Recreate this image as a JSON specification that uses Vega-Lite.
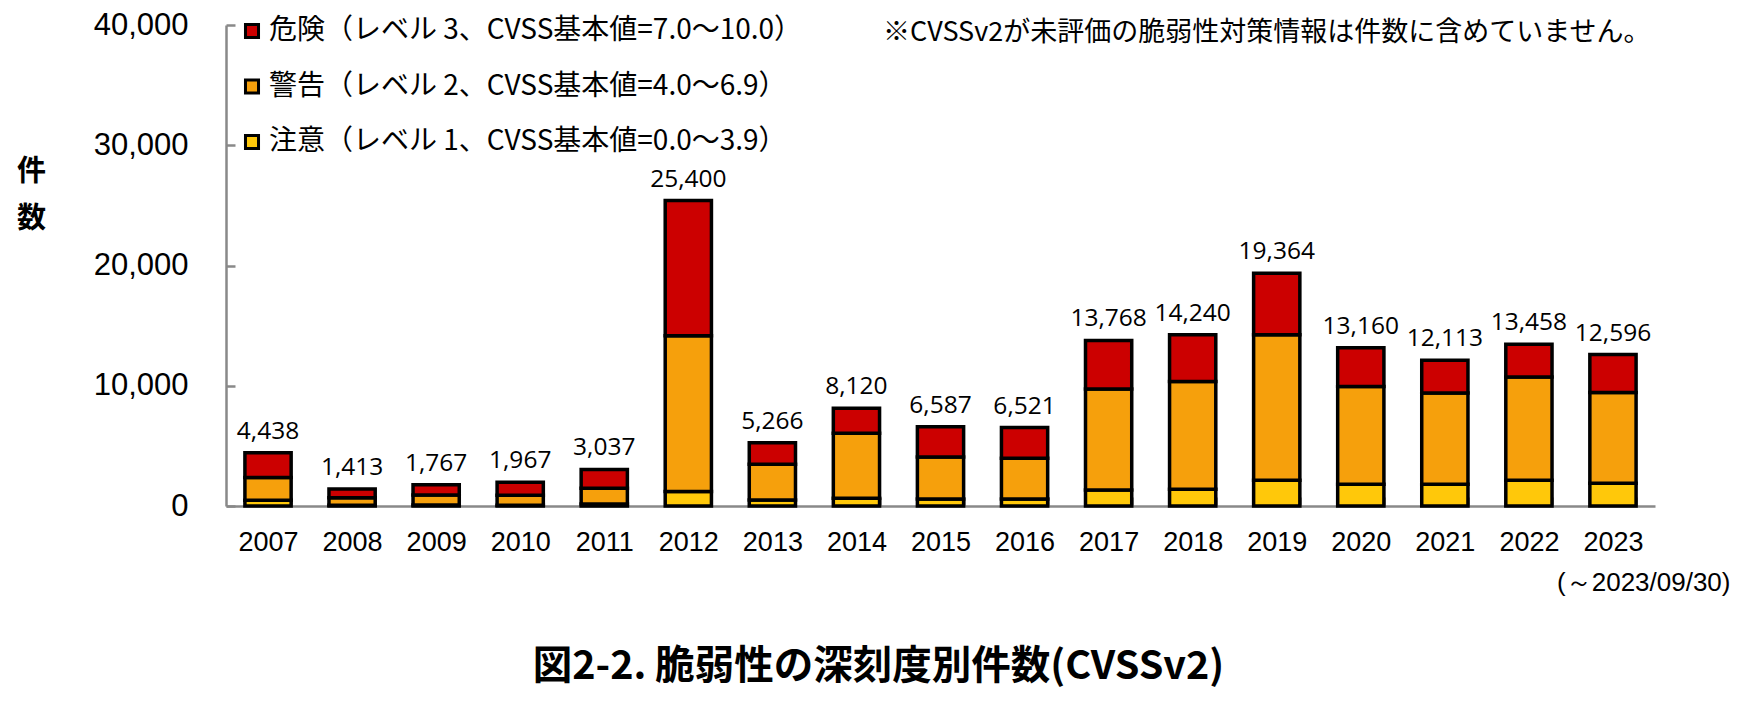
{
  "$schema": "https://vega.github.io/schema/vega-lite/v6.json",
  "width": 1429,
  "height": 481,
  "autosize": {"type": "none"},
  "padding": {"left": 226, "top": 25, "right": 99, "bottom": 208},
  "background": "white",
  "config": {"view": {"stroke": null}, "font": "Noto Sans CJK JP"},
  "title": {
    "text": "図2-2. 脆弱性の深刻度別件数(CVSSv2)",
    "orient": "bottom",
    "frame": "group",
    "anchor": "middle",
    "offset": 53,
    "dx": -62,
    "fontSize": 39.5,
    "fontWeight": "bold",
    "font": "Noto Sans CJK JP",
    "color": "#000000"
  },
  "datasets": {
    "counts": [
      {"year": "2007", "lv": 1, "level": "注意（レベル 1、CVSS基本値=0.0～3.9）", "count": 480},
      {"year": "2007", "lv": 2, "level": "警告（レベル 2、CVSS基本値=4.0～6.9）", "count": 1880},
      {"year": "2007", "lv": 3, "level": "危険（レベル 3、CVSS基本値=7.0～10.0）", "count": 2078},
      {"year": "2008", "lv": 1, "level": "注意（レベル 1、CVSS基本値=0.0～3.9）", "count": 60},
      {"year": "2008", "lv": 2, "level": "警告（レベル 2、CVSS基本値=4.0～6.9）", "count": 630},
      {"year": "2008", "lv": 3, "level": "危険（レベル 3、CVSS基本値=7.0～10.0）", "count": 723},
      {"year": "2009", "lv": 1, "level": "注意（レベル 1、CVSS基本値=0.0～3.9）", "count": 90},
      {"year": "2009", "lv": 2, "level": "警告（レベル 2、CVSS基本値=4.0～6.9）", "count": 830},
      {"year": "2009", "lv": 3, "level": "危険（レベル 3、CVSS基本値=7.0～10.0）", "count": 847},
      {"year": "2010", "lv": 1, "level": "注意（レベル 1、CVSS基本値=0.0～3.9）", "count": 70},
      {"year": "2010", "lv": 2, "level": "警告（レベル 2、CVSS基本値=4.0～6.9）", "count": 820},
      {"year": "2010", "lv": 3, "level": "危険（レベル 3、CVSS基本値=7.0～10.0）", "count": 1077},
      {"year": "2011", "lv": 1, "level": "注意（レベル 1、CVSS基本値=0.0～3.9）", "count": 170},
      {"year": "2011", "lv": 2, "level": "警告（レベル 2、CVSS基本値=4.0～6.9）", "count": 1300},
      {"year": "2011", "lv": 3, "level": "危険（レベル 3、CVSS基本値=7.0～10.0）", "count": 1567},
      {"year": "2012", "lv": 1, "level": "注意（レベル 1、CVSS基本値=0.0～3.9）", "count": 1200},
      {"year": "2012", "lv": 2, "level": "警告（レベル 2、CVSS基本値=4.0～6.9）", "count": 12950},
      {"year": "2012", "lv": 3, "level": "危険（レベル 3、CVSS基本値=7.0～10.0）", "count": 11250},
      {"year": "2013", "lv": 1, "level": "注意（レベル 1、CVSS基本値=0.0～3.9）", "count": 500},
      {"year": "2013", "lv": 2, "level": "警告（レベル 2、CVSS基本値=4.0～6.9）", "count": 2980},
      {"year": "2013", "lv": 3, "level": "危険（レベル 3、CVSS基本値=7.0～10.0）", "count": 1786},
      {"year": "2014", "lv": 1, "level": "注意（レベル 1、CVSS基本値=0.0～3.9）", "count": 650},
      {"year": "2014", "lv": 2, "level": "警告（レベル 2、CVSS基本値=4.0～6.9）", "count": 5400},
      {"year": "2014", "lv": 3, "level": "危険（レベル 3、CVSS基本値=7.0～10.0）", "count": 2070},
      {"year": "2015", "lv": 1, "level": "注意（レベル 1、CVSS基本値=0.0～3.9）", "count": 590},
      {"year": "2015", "lv": 2, "level": "警告（レベル 2、CVSS基本値=4.0～6.9）", "count": 3490},
      {"year": "2015", "lv": 3, "level": "危険（レベル 3、CVSS基本値=7.0～10.0）", "count": 2507},
      {"year": "2016", "lv": 1, "level": "注意（レベル 1、CVSS基本値=0.0～3.9）", "count": 580},
      {"year": "2016", "lv": 2, "level": "警告（レベル 2、CVSS基本値=4.0～6.9）", "count": 3400},
      {"year": "2016", "lv": 3, "level": "危険（レベル 3、CVSS基本値=7.0～10.0）", "count": 2541},
      {"year": "2017", "lv": 1, "level": "注意（レベル 1、CVSS基本値=0.0～3.9）", "count": 1340},
      {"year": "2017", "lv": 2, "level": "警告（レベル 2、CVSS基本値=4.0～6.9）", "count": 8380},
      {"year": "2017", "lv": 3, "level": "危険（レベル 3、CVSS基本値=7.0～10.0）", "count": 4048},
      {"year": "2018", "lv": 1, "level": "注意（レベル 1、CVSS基本値=0.0～3.9）", "count": 1400},
      {"year": "2018", "lv": 2, "level": "警告（レベル 2、CVSS基本値=4.0～6.9）", "count": 8960},
      {"year": "2018", "lv": 3, "level": "危険（レベル 3、CVSS基本値=7.0～10.0）", "count": 3880},
      {"year": "2019", "lv": 1, "level": "注意（レベル 1、CVSS基本値=0.0～3.9）", "count": 2150},
      {"year": "2019", "lv": 2, "level": "警告（レベル 2、CVSS基本値=4.0～6.9）", "count": 12100},
      {"year": "2019", "lv": 3, "level": "危険（レベル 3、CVSS基本値=7.0～10.0）", "count": 5114},
      {"year": "2020", "lv": 1, "level": "注意（レベル 1、CVSS基本値=0.0～3.9）", "count": 1810},
      {"year": "2020", "lv": 2, "level": "警告（レベル 2、CVSS基本値=4.0～6.9）", "count": 8130},
      {"year": "2020", "lv": 3, "level": "危険（レベル 3、CVSS基本値=7.0～10.0）", "count": 3220},
      {"year": "2021", "lv": 1, "level": "注意（レベル 1、CVSS基本値=0.0～3.9）", "count": 1810},
      {"year": "2021", "lv": 2, "level": "警告（レベル 2、CVSS基本値=4.0～6.9）", "count": 7580},
      {"year": "2021", "lv": 3, "level": "危険（レベル 3、CVSS基本値=7.0～10.0）", "count": 2723},
      {"year": "2022", "lv": 1, "level": "注意（レベル 1、CVSS基本値=0.0～3.9）", "count": 2140},
      {"year": "2022", "lv": 2, "level": "警告（レベル 2、CVSS基本値=4.0～6.9）", "count": 8580},
      {"year": "2022", "lv": 3, "level": "危険（レベル 3、CVSS基本値=7.0～10.0）", "count": 2738},
      {"year": "2023", "lv": 1, "level": "注意（レベル 1、CVSS基本値=0.0～3.9）", "count": 1890},
      {"year": "2023", "lv": 2, "level": "警告（レベル 2、CVSS基本値=4.0～6.9）", "count": 7550},
      {"year": "2023", "lv": 3, "level": "危険（レベル 3、CVSS基本値=7.0～10.0）", "count": 3156}
    ],
    "notes": [
      {"text": "※CVSSv2が未評価の脆弱性対策情報は件数に含めていません。"}
    ]
  },
  "layer": [
    {
      "data": {"name": "counts"},
      "mark": {"type": "bar", "stroke": "#000000", "strokeWidth": 3.5},
      "encoding": {
        "x": {
          "field": "year",
          "type": "ordinal",
          "scale": {"paddingInner": 0.45, "paddingOuter": 0.225},
          "axis": {
            "title": "(～2023/09/30)",
            "titleFont": "Liberation Sans",
            "titleFontSize": 26,
            "titleFontWeight": "normal",
            "titleColor": "#000000",
            "titleAlign": "right",
            "titleAnchor": "end",
            "titleBaseline": "middle",
            "titleX": 1504,
            "titleY": 76,
            "labelAngle": 0,
            "labelFont": "Liberation Sans",
            "labelFontSize": 27,
            "labelColor": "#000000",
            "labelPadding": 32,
            "tickBand": "extent",
            "tickSize": -9,
            "tickColor": "#898989",
            "tickWidth": 2.5,
            "domainColor": "#898989",
            "domainWidth": 2.5
          }
        },
        "y": {
          "field": "count",
          "type": "quantitative",
          "aggregate": "sum",
          "stack": "zero",
          "scale": {"domain": [0, 40000], "nice": false},
          "axis": {
            "values": [0, 10000, 20000, 30000, 40000],
            "format": ",d",
            "grid": false,
            "title": ["件", "数"],
            "titleAngle": 0,
            "titleX": -195,
            "titleY": 146,
            "titleAlign": "center",
            "titleBaseline": "middle",
            "titleFont": "Noto Sans CJK JP",
            "titleFontSize": 29,
            "titleFontWeight": "bold",
            "titleLineHeight": 47,
            "titleColor": "#000000",
            "labelFont": "Liberation Sans",
            "labelFontSize": 31,
            "labelColor": "#000000",
            "labelPadding": 47,
            "tickSize": -9,
            "tickColor": "#898989",
            "tickWidth": 2.5,
            "domainColor": "#898989",
            "domainWidth": 2.5
          }
        },
        "color": {
          "field": "level",
          "type": "nominal",
          "scale": {
            "domain": ["危険（レベル 3、CVSS基本値=7.0～10.0）", "警告（レベル 2、CVSS基本値=4.0～6.9）", "注意（レベル 1、CVSS基本値=0.0～3.9）"],
            "range": ["#CC0000", "#F6A00C", "#FFC80A"]
          },
          "legend": {
            "title": null,
            "orient": "none",
            "legendX": 12,
            "legendY": -8,
            "symbolType": "square",
            "symbolSize": 170,
            "symbolStrokeColor": "#000000",
            "symbolStrokeWidth": 3,
            "symbolOpacity": 1,
            "labelFont": "Noto Sans CJK JP",
            "labelFontSize": 28,
            "labelColor": "#000000",
            "labelLimit": 800,
            "rowPadding": 27.5,
            "labelOffset": 3
          }
        },
        "order": {"field": "lv", "type": "quantitative", "sort": "ascending"}
      }
    },
    {
      "data": {"name": "counts"},
      "transform": [
        {"aggregate": [{"op": "sum", "field": "count", "as": "total"}], "groupby": ["year"]}
      ],
      "mark": {"type": "text", "font": "Open Sans", "fontSize": 24.5, "color": "#000000", "baseline": "alphabetic", "dy": -14},
      "encoding": {
        "x": {"field": "year", "type": "ordinal"},
        "y": {"field": "total", "type": "quantitative"},
        "text": {"field": "total", "type": "quantitative", "format": ","}
      }
    },
    {
      "data": {"name": "notes"},
      "mark": {"type": "text", "font": "Noto Sans CJK JP", "fontSize": 27, "color": "#000000", "align": "center", "baseline": "middle", "dx": -10},
      "encoding": {
        "x": {"datum": "2019", "type": "ordinal"},
        "y": {"datum": 39300, "type": "quantitative"},
        "text": {"field": "text", "type": "nominal"}
      }
    }
  ]
}
